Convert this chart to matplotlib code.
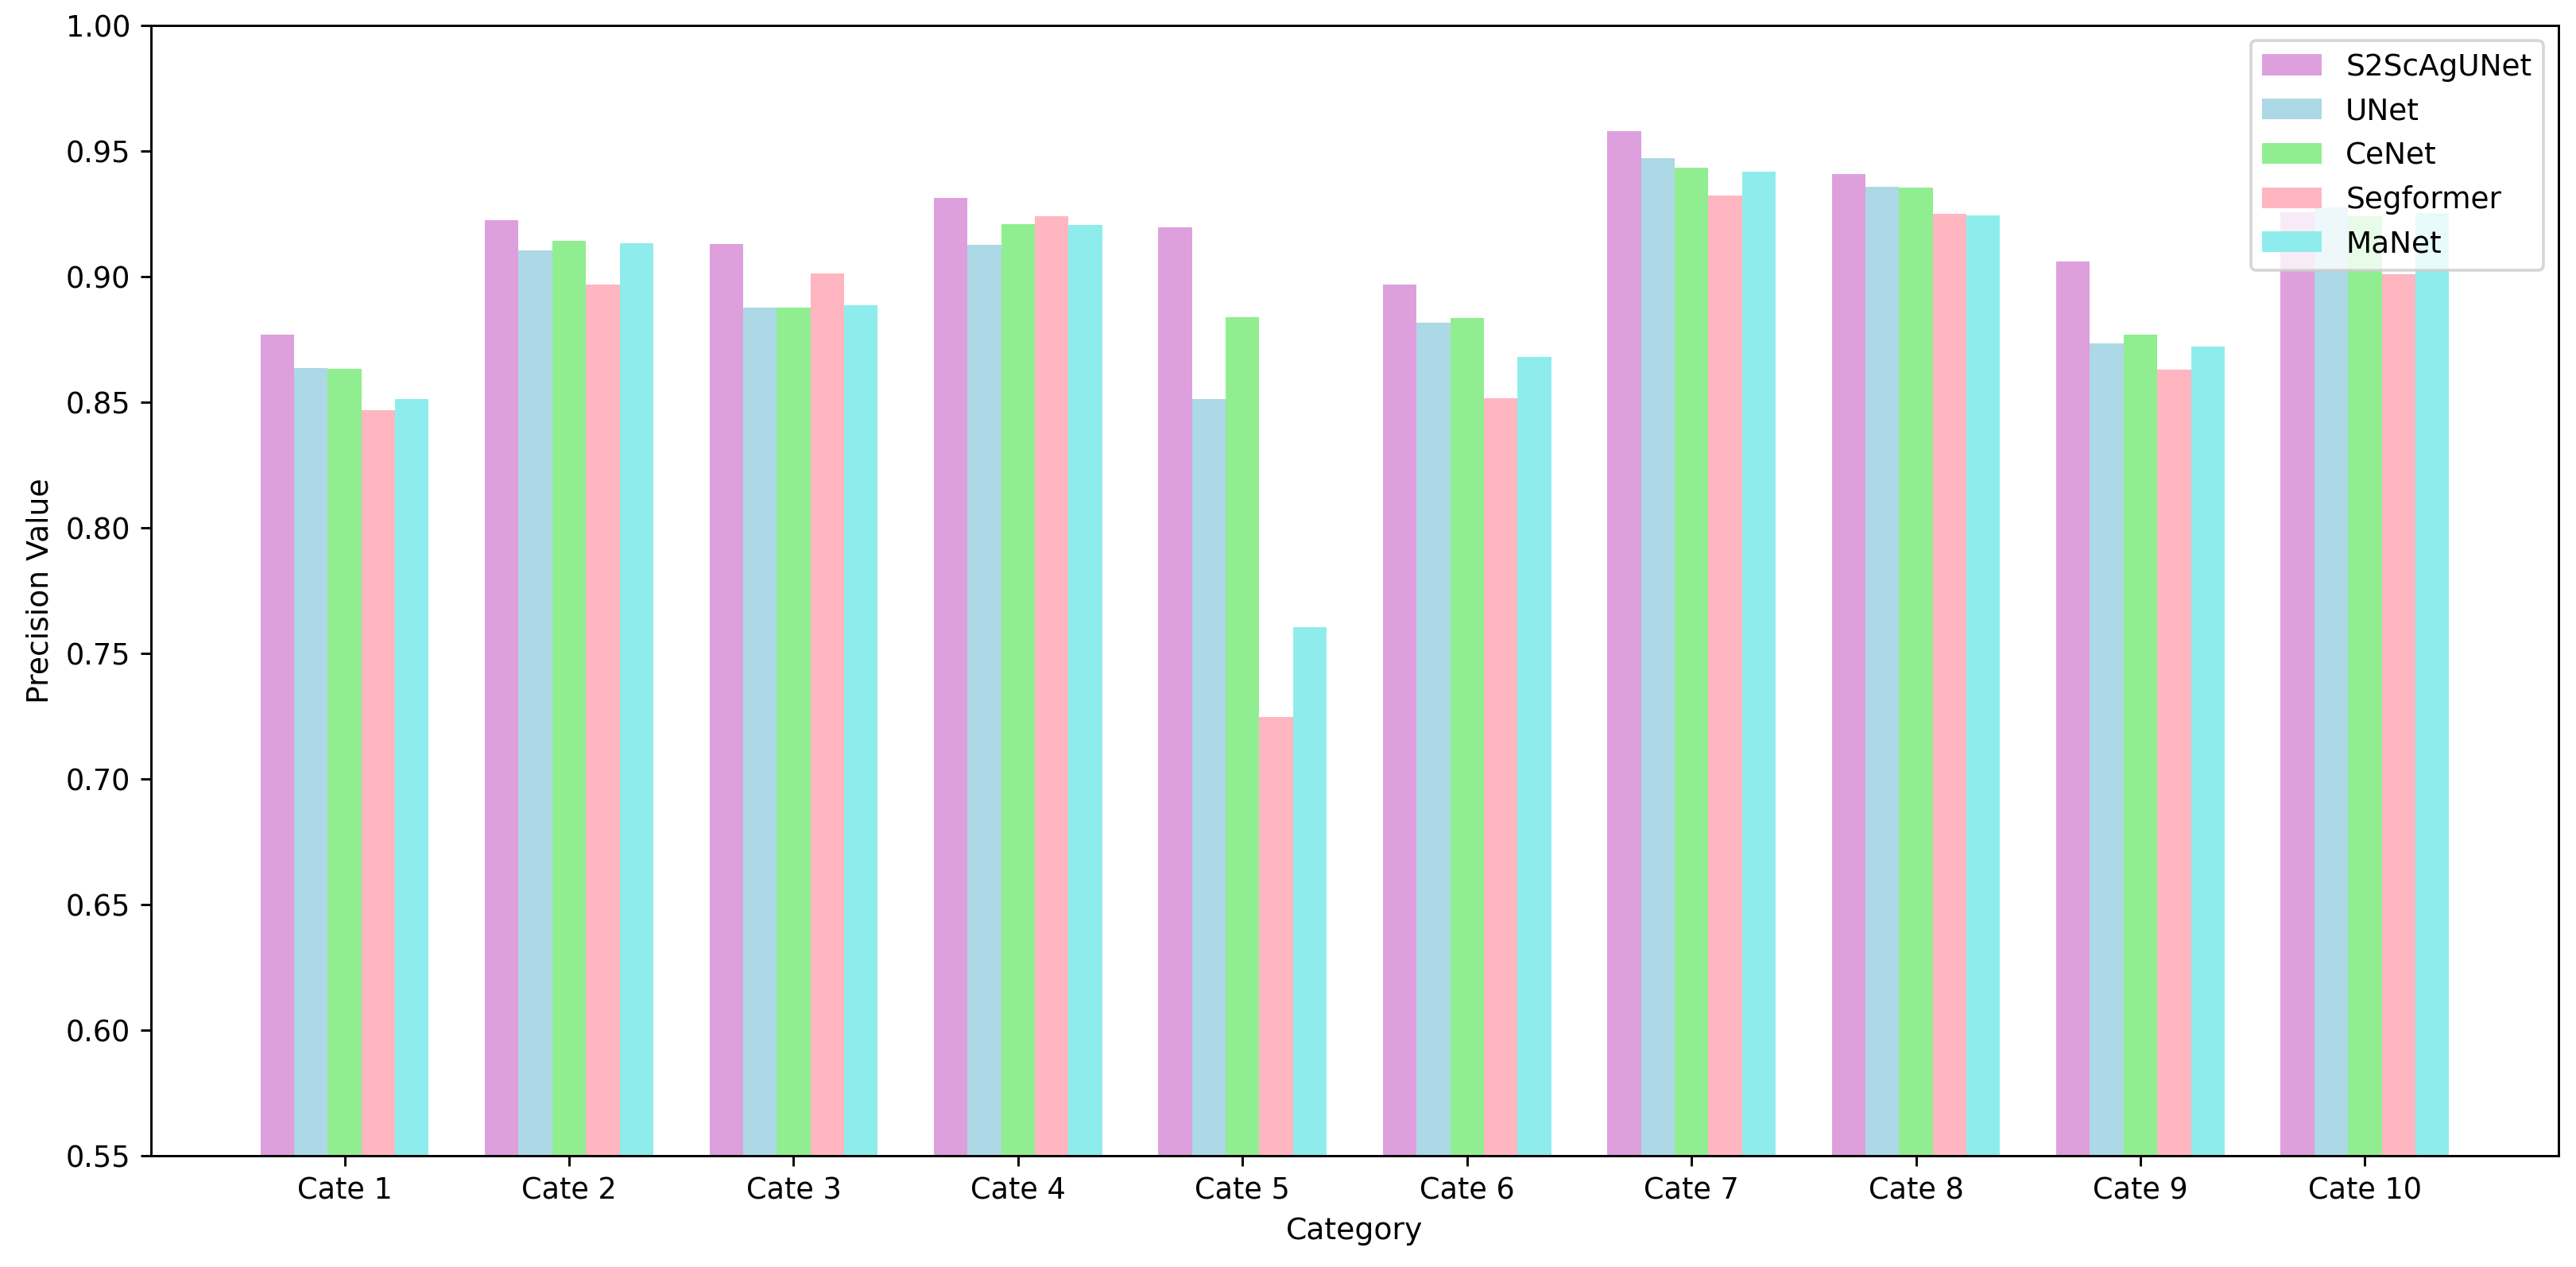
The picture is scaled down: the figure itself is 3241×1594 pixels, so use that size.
import numpy as np
import matplotlib
matplotlib.use("Agg")
import matplotlib.pyplot as plt

categories = ['Cate 1', 'Cate 2', 'Cate 3', 'Cate 4', 'Cate 5',
              'Cate 6', 'Cate 7', 'Cate 8', 'Cate 9', 'Cate 10']
models = ['S2ScAgUNet', 'UNet', 'CeNet', 'Segformer', 'MaNet']

s2scagunet = [0.877, 0.9225, 0.913, 0.9313, 0.9196, 0.8968, 0.9579, 0.9408, 0.906, 0.9256]
unet = [0.8636, 0.9104, 0.8877, 0.9127, 0.8513, 0.8816, 0.9472, 0.9358, 0.8734, 0.9275]
cenet = [0.8633, 0.9142, 0.8877, 0.9209, 0.8839, 0.8835, 0.9434, 0.9354, 0.8769, 0.9241]
segformer = [0.8468, 0.8968, 0.9013, 0.9241, 0.7247, 0.8516, 0.9323, 0.925, 0.863, 0.901]
manet = [0.8513, 0.9133, 0.8886, 0.9206, 0.7604, 0.868, 0.9418, 0.9244, 0.8722, 0.9253]

colors = ['plum', 'lightblue', 'lightgreen', 'lightpink', '#8EEDEC']

values = [s2scagunet, unet, cenet, segformer, manet]

# original looks like it was rendered at a higher dpi than 200
dpi = 264
W, H = 3241, 1594
fig = plt.figure(figsize=(W / dpi, H / dpi), dpi=dpi)
ax = fig.add_axes([190 / W, 1 - 1454 / H, (3219 - 190) / W, (1454 - 32) / H])

x = np.arange(len(categories))
width = 0.15
for i, (name, vals) in enumerate(zip(models, values)):
    ax.bar(x + (i - 2) * width, vals, width, label=name, color=colors[i])

ax.set_ylim(0.55, 1.0)
ax.set_xticks(x)
ax.set_xticklabels(categories)
ax.set_xlabel('Category', fontsize=10.3)
ax.set_ylabel('Precision Value', fontsize=10.3)
ax.legend(loc='upper right', fontsize=10.2)

fig.savefig('out.png', dpi=dpi)
